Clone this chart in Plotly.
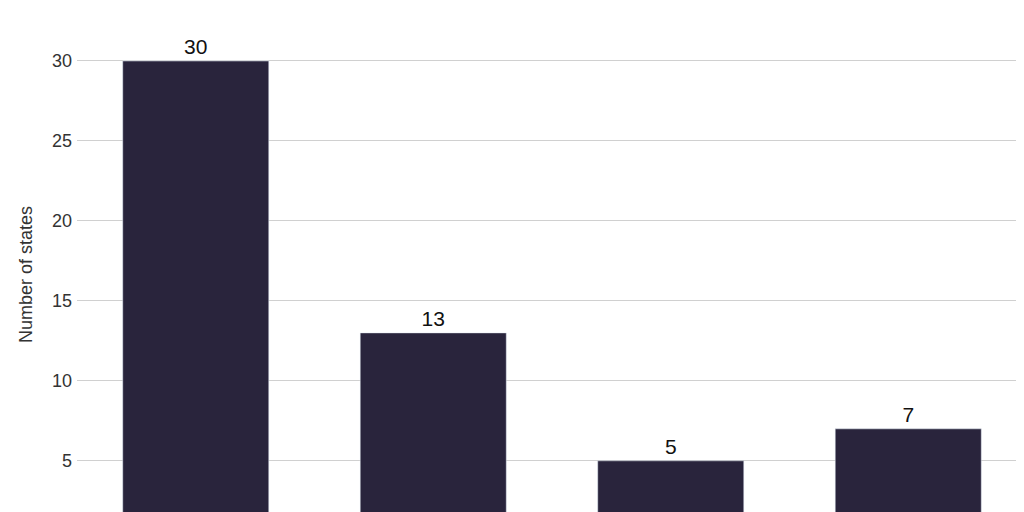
import plotly.graph_objects as go

categories = ["Category A", "Category B", "Category C", "Category D"]
values = [30, 13, 5, 7]

fig = go.Figure(go.Bar(
    x=categories, y=values,
    marker_color="#29243c",
    text=[str(v) for v in values], textposition="outside",
    textfont=dict(size=21, color="#111"),
    cliponaxis=False,
))
fig.update_layout(
    width=1024, height=512,
    margin=dict(l=69, r=5, t=21, b=0),
    plot_bgcolor="white", paper_bgcolor="white",
    bargap=0.385,
    font=dict(family="Liberation Sans, Arial", size=18, color="#333"),
    showlegend=False,
)
fig.update_yaxes(
    range=[1.3, 32], tickvals=[5, 10, 15, 20, 25, 30],
    gridcolor="#d0d0d0", gridwidth=1, zeroline=False,
    title=dict(text="Number of states", font=dict(size=18), standoff=14),
    ticks="", ticklabelstandoff=4,
)
fig.update_xaxes(showgrid=False, ticks="", showticklabels=False)
fig.write_html("out.html")
